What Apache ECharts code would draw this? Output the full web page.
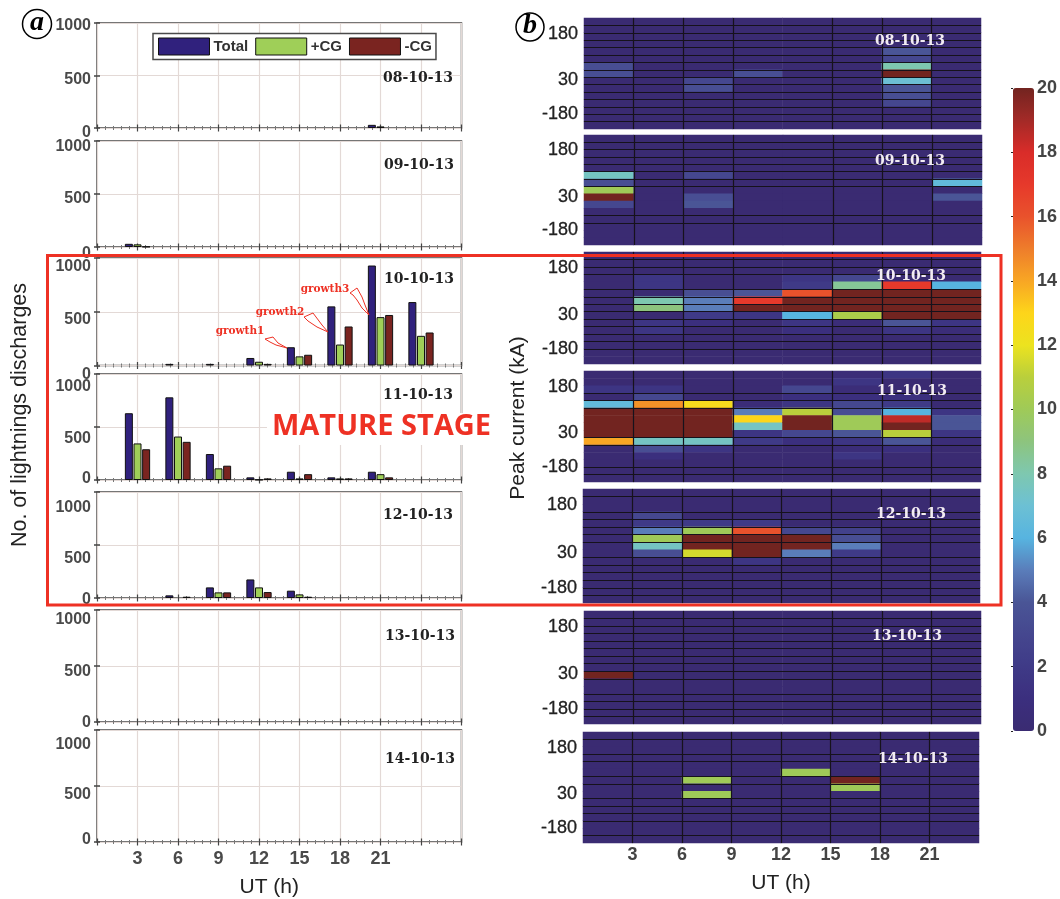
<!DOCTYPE html>
<html><head><meta charset="utf-8">
<style>html,body{margin:0;padding:0;background:#fff}#c{width:1060px;height:899px}</style>
<script src="https://cdn.jsdelivr.net/npm/echarts@6/dist/echarts.min.js"></script>
</head><body><div id="c"></div>
<script>
// ---------- data ----------
const days = ['08-10-13','09-10-13','10-10-13','11-10-13','12-10-13','13-10-13','14-10-13'];
const barHours = [3,6,9,12,15,18,21,24];
const binNames = ['0-3','3-6','6-9','9-12','12-15','15-18','18-21','21-24'];
const rowNames = ['r0','r1','r2','r3','r4','r5','r6','r7','r8','r9','r10','r11','r12','r13','r14'];
const hourLabels = [3,6,9,12,15,18,21];
const peakLabels = ['180','30','-180'];
const colorLevels = [0,2,4,6,8,10,12,14,16,18,20];

const total = [
  [0,0,0,0,0,0,30,0],
  [30,0,0,0,0,0,0,0],
  [0,15,15,70,170,550,930,590],
  [630,780,245,25,78,25,78,0],
  [0,25,100,175,69,0,0,0],
  [0,0,0,0,0,0,0,0],
  [0,0,0,0,0,0,0,0]
];
const plusCG = [
  [0,0,0,0,0,0,15,0],
  [25,0,0,0,0,0,0,0],
  [0,0,0,35,85,195,450,276],
  [345,410,110,3,15,15,55,0],
  [0,0,53,100,34,0,0,0],
  [0,0,0,0,0,0,0,0],
  [0,0,0,0,0,0,0,0]
];
const minusCG = [
  [0,0,0,0,0,0,0,0],
  [3,0,0,0,0,0,0,0],
  [0,0,0,15,100,363,470,307],
  [290,360,135,15,55,15,25,0],
  [0,12,53,56,12,0,0,0],
  [0,0,0,0,0,0,0,0],
  [0,0,0,0,0,0,0,0]
];

// [hour-bin, current-row, count]; every other cell is 0
const cells0810 = [[0,6,3.5],[0,7,3.5],[2,8,3],[2,9,3.5],[3,7,3.5],[6,4,4],[6,5,3],[6,6,8],[6,7,20],[6,8,7],[6,9,4],[6,10,3.5],[6,11,3]];
const cells0910 = [[0,5,7.5],[0,6,3.5],[0,7,10],[0,8,20],[0,9,3],[2,5,3],[2,8,3.5],[2,9,4],[7,6,6.5],[7,8,4]];
const cells1010 = [[1,3,1.5],[1,4,1.5],[1,6,8],[1,7,9],[1,9,1.5],[1,10,1.5],[2,5,3.5],[2,6,5],[2,7,5],[2,8,2],[2,9,1],
  [3,5,4],[3,6,17],[3,7,20],[3,8,1.5],[4,3,1.5],[4,4,2],[4,5,16],[4,6,20],[4,7,20],[4,8,6],[4,9,1.5],[4,10,1],
  [5,3,3],[5,4,8.5],[5,5,20],[5,6,20],[5,7,20],[5,8,10.5],[5,9,0.5],
  [6,4,17],[6,5,20],[6,6,20],[6,7,20],[6,8,20],[6,9,4],[6,10,1.5],[7,4,6],[7,5,20],[7,6,20],[7,7,20],[7,8,20],[7,9,1.5],[7,10,0.5]];
const cells1110 = [[0,2,1.5],[0,4,6.5],[0,5,20],[0,6,20],[0,7,20],[0,8,20],[0,9,14],
  [1,2,1.5],[1,3,3],[1,4,14.5],[1,5,20],[1,6,20],[1,7,20],[1,8,20],[1,9,7.5],[1,10,3.5],[1,11,1],
  [2,4,12.5],[2,5,20],[2,6,20],[2,7,20],[2,8,20],[2,9,7.5],[2,10,1.5],
  [3,4,0.5],[3,5,5],[3,6,13],[3,7,7.5],[3,8,1.5],[3,9,2],
  [4,2,3],[4,3,1],[4,4,1.5],[4,5,11],[4,6,20],[4,7,20],[4,8,3],[4,9,1],
  [5,0,0.5],[5,1,1.5],[5,2,0.5],[5,3,1],[5,4,3],[5,5,3.5],[5,6,10],[5,7,10],[5,8,4],[5,9,1.5],[5,10,0.5],[5,11,1.5],
  [6,0,1.5],[6,3,1],[6,4,2],[6,5,6],[6,6,18.5],[6,7,20],[6,8,11],[6,9,4],[6,10,1],
  [7,5,1.5],[7,6,4],[7,7,4],[7,8,1.5],[7,9,0.5]];
const cells1210 = [[1,3,3],[1,4,2],[1,5,5],[1,6,10],[1,7,7.5],[1,8,3.5],[2,4,2],[2,5,10],[2,6,20],[2,7,20],[2,8,11.5],
  [3,4,2],[3,5,16],[3,6,20],[3,7,20],[3,8,20],[3,9,1.5],[4,5,3],[4,6,20],[4,7,20],[4,8,5],[5,5,2.5],[5,6,3.5],[5,7,5],[5,8,2]];
const cells1310 = [[0,8,20]];
const cells1410 = [[2,6,10],[2,8,10],[4,5,10],[5,6,20],[5,7,10]];

// mesh lines that stay visible in each heat panel
const rowLines0810 = [1,2,3,4,5,6,7,8,9,10,11,12,13,14];
const rowLines0910 = [1,2,3,4,5,6,7,11,12];
const rowLines1010 = [1,2,3,5,6,7,8,9,10,11,12,13];
const rowLines1110 = [3,4,5,9,10,13,14];
const rowLines1210 = [1,3,4,5,6,7,9,10,11,12,13,14];
const rowLines1310 = [1,2,3,4,5,6,7,8,9,11,12,13,14];
const rowLines1410 = [1,3,4,6,7,9,10,11,12,14];
const hourLines0 = [3,6,9,15,18,21];
const hourLines1 = [3,6,9,12,15,18,21];

const peakCells = [cells0810,cells0910,cells1010,cells1110,cells1210,cells1310,cells1410];
const rowLines = [rowLines0810,rowLines0910,rowLines1010,rowLines1110,rowLines1210,rowLines1310,rowLines1410];
const hourLines = [hourLines0,hourLines0,hourLines0,hourLines0,hourLines1,hourLines0,hourLines1];

// ---------- layout and style ----------
const leftBoxes = [[23,128],[141,247],[258,365.5],[374,480],[492,598],[610,722],[730,842]];
const rightBoxes = [[584,981,18,129],[584,982,135,245],[584,981,252,364],[584,981,371,482],[583,980,489,603],[584,981,611,724],[583,979,732,843]];
const leftLabelShift = [[3,4,5],[6,5,7],[9,8,9],[13,12,-1],[16,14,2],[10,6,1],[15,9,-2]];
const peakLabelRow = [2.1,8.4,13];
const leftDatePos = [[418,78],[419,165],[419,279],[418,395],[418,515],[420,636],[420,759]];
const rightDatePos = [[910,41],[910,161],[911,276],[912,391],[911,514],[907,636],[913,759]];
const colorStops = ['#3a2b72','#3b2f7e','#3f3a87','#45478f','#4a5596','#5a7dba','#57b4e0','#6cc0d4','#7ec8b0','#8dc47e','#9fca58','#b9cf3c','#ece31f','#fdd51a','#f8a624','#ee7d2b','#e9522c','#e6392b','#d92c29','#a32a27','#722420'];
const barColors = {Total:'#30217d','+CG':'#9fcf58','-CG':'#7a2420'};

const grid=[], xAxis=[], yAxis=[], series=[], title=[];
const leftAxisFont = {fontFamily:'Liberation Sans',fontSize:16,fontWeight:'bold',color:'#4a4a4a'};
const utName = {fontFamily:'Liberation Sans',fontSize:21,color:'#222'};

days.forEach((d,i)=>{
  const [t,b] = leftBoxes[i];
  const g = grid.length;
  grid.push({left:97,width:364.5,top:t,height:b-t,outerBoundsMode:'none',show:true,borderColor:'#4a4a4a',borderWidth:1.5,backgroundColor:'#fff'});
  const last = i===days.length-1;
  const xi = xAxis.length;
  const xBase = {gridIndex:g,type:'value',min:0,max:27,interval:3,
    axisLine:{show:false},
    axisTick:{show:true,inside:true,length:3.5,lineStyle:{color:'#444',width:1.2}},
    minorTick:{show:true,splitNumber:5,length:2,lineStyle:{color:'#777',width:1}}};
  xAxis.push(Object.assign({},xBase,{position:'bottom',
    splitLine:{show:true,lineStyle:{color:'#e3d9d6',width:1.2}},minorSplitLine:{show:false},
    axisLabel:{show:last,...leftAxisFont,fontSize:18,margin:8,hideOverlap:false,showMinLabel:true,showMaxLabel:true,
      formatter:v=>hourLabels.includes(v)?String(v):''},
    name:last?'UT (h)':'',nameLocation:'middle',nameGap:35,
    nameTextStyle:{...utName,padding:[0,20,0,0]}}));
  xAxis.push(Object.assign({},xBase,{position:'top',splitLine:{show:false},axisLabel:{show:false}}));
  const yi = yAxis.length;
  const sh = leftLabelShift[i];
  const pad = s=> s>=0 ? [2*s,0,0,0] : [0,0,-2*s,0];
  const st = s=>({...leftAxisFont,padding:pad(s)});
  yAxis.push({gridIndex:g,type:'value',min:0,max:1000,interval:500,
    axisLine:{show:false},
    axisTick:{show:true,inside:true,length:3,lineStyle:{color:'#444',width:1.5}},
    splitLine:{show:true,lineStyle:{color:'#e3d9d6',width:1.2}},
    axisLabel:{margin:6,...leftAxisFont,hideOverlap:false,
      formatter:v=>`{${v===1000?'a':v===500?'b':'c'}|${v}}`,
      rich:{a:st(sh[0]),b:st(sh[1]),c:st(sh[2])}}});
  yAxis.push({gridIndex:g,type:'value',min:0,max:1000,interval:500,position:'right',
    axisLine:{show:false},axisLabel:{show:false},splitLine:{show:false},
    axisTick:{show:true,inside:true,length:3,lineStyle:{color:'#444',width:1.5}}});
  [['Total',total],['+CG',plusCG],['-CG',minusCG]].forEach(([name,arr])=>{
    series.push({type:'bar',name,xAxisIndex:xi,yAxisIndex:yi,barWidth:8,barGap:'8%',
      itemStyle:{color:barColors[name],borderColor:'#111',borderWidth:1},
      silent:true,
      data:barHours.map((h,k)=>[h,arr[i][k]]).filter(p=>p[1]>0)});
  });
  title.push({text:d,left:leftDatePos[i][0],top:leftDatePos[i][1],textAlign:'center',textVerticalAlign:'middle',padding:0,
    textStyle:{fontFamily:'DejaVu Serif',fontWeight:'bold',fontSize:14,color:'#222'}});
});

const heatIdx=[];
days.forEach((d,i)=>{
  const [l,r,t,b] = rightBoxes[i];
  const g = grid.length;
  grid.push({left:l,width:r-l,top:t,height:b-t,outerBoundsMode:'none'});
  const xi = xAxis.length, yi = yAxis.length;
  const last = i===days.length-1;
  xAxis.push({gridIndex:g,type:'category',data:binNames,show:false});
  yAxis.push({gridIndex:g,type:'category',data:rowNames,inverse:true,show:false,position:'right'});
  xAxis.push({gridIndex:g,type:'value',min:0,max:24,position:'bottom',z:4,
    axisLine:{show:false},
    axisTick:{show:false,customValues:hourLines[i]},
    splitLine:{show:true,lineStyle:{color:'#16121c',width:1.2}},
    axisLabel:{show:last,customValues:hourLabels,...leftAxisFont,fontSize:18,margin:3,color:'#444',formatter:v=>String(v)},
    name:last?'UT (h)':'',nameLocation:'middle',nameGap:30,
    nameTextStyle:utName});
  yAxis.push({gridIndex:g,type:'value',min:0,max:15,inverse:true,z:4,position:'left',
    axisLine:{show:false},
    axisTick:{show:false,customValues:rowLines[i]},
    splitLine:{show:true,lineStyle:{color:'#16121c',width:1.2}},
    axisLabel:{show:true,customValues:peakLabelRow,margin:6,fontFamily:'Liberation Sans',fontSize:18,color:'#222',
      textBorderColor:'#222',textBorderWidth:0.3,hideOverlap:false,
      formatter:v=>peakLabels[peakLabelRow.indexOf(v)]}});
  const fill=[];
  binNames.forEach((_,c)=>rowNames.forEach((_,r)=>{
    const hit = peakCells[i].find(e=>e[0]===c&&e[1]===r);
    fill.push([c,r,hit?hit[2]:0]);
  }));
  heatIdx.push(series.length);
  series.push({type:'heatmap',name:'peak '+d,xAxisIndex:xi,yAxisIndex:yi,data:fill,silent:true,progressive:0,
    itemStyle:{borderWidth:0}});
  title.push({text:d,left:rightDatePos[i][0],top:rightDatePos[i][1],textAlign:'center',textVerticalAlign:'middle',z:8,padding:0,
    textStyle:{fontFamily:'DejaVu Serif',fontWeight:'bold',fontSize:14,color:'#f2ecf2'}});
});

// colour bar scale
{
  const g = grid.length;
  grid.push({left:1013,width:21,top:88,height:643,outerBoundsMode:'none'});
  xAxis.push({gridIndex:g,type:'value',min:0,max:1,show:false});
  yAxis.push({gridIndex:g,type:'value',min:0,max:20,position:'right',
    axisLine:{show:false},splitLine:{show:false},
    axisTick:{show:true,customValues:colorLevels,inside:true,length:2,lineStyle:{color:'#222'}},
    axisLabel:{customValues:colorLevels,margin:3,padding:[2,0,0,0],fontFamily:'Liberation Sans',fontSize:18,fontWeight:'bold',color:'#444'}});
}

const growthMarks = [
  {text:'growth1',x:240,y:331,pts:[[265,339],[273,337],[278,343],[287,348],[276,345],[270,342]]},
  {text:'growth2',x:280,y:312,pts:[[304,317],[313,313],[322,325],[328,332],[317,327],[308,321]]},
  {text:'growth3',x:325,y:289,pts:[[350,293],[357,288],[362,297],[365,305],[369,315],[362,308],[357,300],[353,295]]}
];
const red = '#ee3124';
const graphic = [
  {type:'rect',z:30,shape:{x:47.5,y:255.5,width:953.5,height:349.5},style:{fill:'none',stroke:red,lineWidth:3}},
  {type:'rect',z:29,shape:{x:267,y:413,width:228,height:32},style:{fill:'#fff'}},
  {type:'text',z:31,style:{text:'MATURE STAGE',x:381.5,y:427,align:'center',verticalAlign:'middle',fill:red,
    font:'bold 29px "Open Sans"'}},
  {type:'circle',z:20,shape:{cx:37,cy:24,r:14.5},style:{fill:'#fff',stroke:'#000',lineWidth:1.5}},
  {type:'text',z:21,style:{text:'a',x:37,y:23,align:'center',verticalAlign:'middle',fill:'#000',font:'italic bold 28px "Liberation Serif"'}},
  {type:'circle',z:20,shape:{cx:530,cy:27,r:14},style:{fill:'#fff',stroke:'#000',lineWidth:1.5}},
  {type:'text',z:21,style:{text:'b',x:530,y:26,align:'center',verticalAlign:'middle',fill:'#000',font:'italic bold 28px "Liberation Serif"'}},
  {type:'text',z:21,rotation:Math.PI/2,x:20,y:415,style:{text:'No. of lightnings discharges',x:0,y:0,align:'center',verticalAlign:'middle',fill:'#222',font:'21.5px "Liberation Sans"'}},
  {type:'text',z:21,rotation:Math.PI/2,x:518,y:418,style:{text:'Peak current (kA)',x:0,y:0,align:'center',verticalAlign:'middle',fill:'#222',font:'21px "Liberation Sans"'}}
];
growthMarks.forEach(m=>{
  graphic.push({type:'text',z:22,style:{text:m.text,x:m.x,y:m.y,align:'center',verticalAlign:'middle',fill:red,font:'bold 10.5px "DejaVu Serif"'}});
  graphic.push({type:'polygon',z:22,shape:{points:m.pts},style:{fill:'none',stroke:red,lineWidth:1}});
});

const chart = echarts.init(document.getElementById('c'),null,{renderer:'canvas'});
chart.setOption({
  animation:false,backgroundColor:'#fff',
  grid,xAxis,yAxis,series,title,graphic,
  legend:{data:['Total','+CG','-CG'],left:153,top:33.5,icon:'rect',itemWidth:51,itemHeight:17,itemGap:7,
    padding:[4,4,4,5],backgroundColor:'#fff',borderColor:'#4a4a4a',borderWidth:1.5,z:9,selectedMode:false,
    textStyle:{fontFamily:'Liberation Sans',fontWeight:'bold',fontSize:15,color:'#333',padding:[0,0,0,-1]},
    itemStyle:{borderColor:'#111',borderWidth:1}},
  visualMap:{type:'continuous',min:0,max:20,seriesIndex:heatIdx,show:true,left:1013,top:88,padding:0,
    itemWidth:21,itemHeight:643,text:null,showLabel:false,calculable:false,hoverLink:false,
    inRange:{color:colorStops}}
});
</script></body></html>
